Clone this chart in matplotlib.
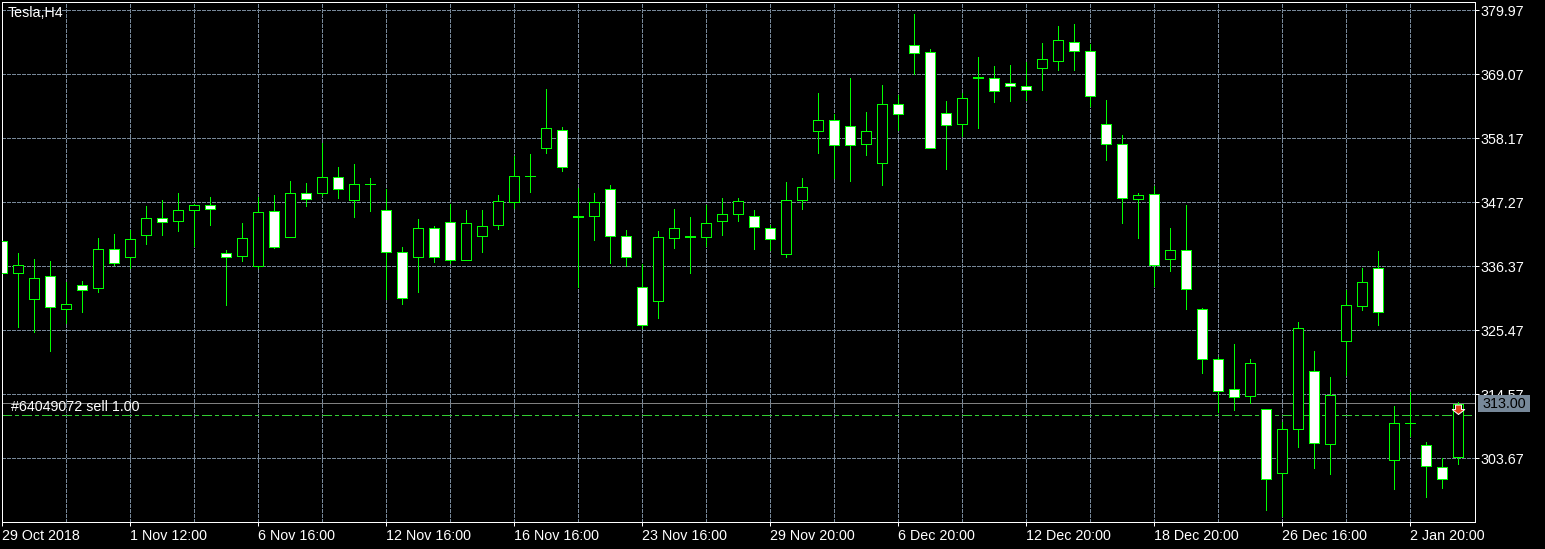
import numpy as np
import matplotlib
matplotlib.use('Agg')
import matplotlib.pyplot as plt
from matplotlib.patches import Rectangle

plt.rcParams['font.family'] = ['Liberation Sans', 'DejaVu Sans']

# candle values
opens = [340.63, 335.18, 330.75, 334.67, 329.05, 333.14, 332.63, 339.27, 337.91, 341.65,
         344.55, 344.04, 345.91, 346.76, 338.59, 338.08, 336.37, 345.74, 341.31, 348.81,
         348.81, 351.53, 347.61, 350.34, 345.91, 338.76, 337.91, 342.84, 343.87, 337.39,
         341.48, 343.36, 347.27, 351.70, 356.47, 359.53, 344.97, 344.89, 349.49, 341.48,
         332.80, 330.41, 341.14, 341.48, 341.31, 344.04, 345.23, 344.89, 342.84, 338.42,
         347.61, 359.36, 361.24, 360.22, 357.15, 353.91, 363.96, 374.01, 372.82, 362.43,
         360.56, 368.65, 368.39, 367.54, 367.03, 370.09, 371.29, 374.52, 372.99, 360.56,
         357.15, 347.78, 348.63, 337.56, 339.10, 329.05, 320.53, 315.42, 314.23, 312.02,
         301.12, 308.61, 318.49, 306.06, 323.60, 329.56, 336.03, 303.33, 309.63, 305.89,
         302.14, 303.84]
highs = [340.63, 338.59, 337.56, 337.22, 333.65, 333.82, 341.14, 341.82, 342.50, 346.59,
         347.61, 348.81, 346.93, 348.12, 339.10, 343.70, 348.12, 348.46, 350.85, 350.51,
         357.32, 353.23, 353.74, 351.36, 349.49, 339.61, 344.38, 343.18, 346.93, 345.91,
         345.91, 348.46, 355.11, 355.45, 366.60, 360.05, 349.66, 348.81, 350.17, 342.50,
         336.71, 342.33, 346.08, 344.72, 346.76, 347.95, 347.95, 345.91, 343.44, 350.68,
         351.36, 365.84, 362.26, 368.48, 362.60, 367.28, 365.50, 379.38, 373.33, 364.47,
         365.84, 371.97, 370.52, 370.60, 371.12, 374.44, 377.33, 377.67, 374.27, 364.73,
         358.77, 348.89, 350.08, 342.84, 346.85, 329.30, 320.96, 323.09, 320.53, 312.10,
         309.80, 326.84, 321.90, 317.47, 332.28, 336.03, 338.93, 312.53, 314.91, 306.40,
         303.67, 313.21]
lows = [335.18, 325.98, 325.13, 321.90, 326.66, 328.54, 331.94, 336.63, 336.03, 340.12,
        341.74, 342.33, 339.78, 343.36, 329.73, 337.31, 336.03, 339.52, 341.31, 346.59,
        348.55, 348.04, 344.72, 345.74, 330.75, 329.90, 331.94, 337.05, 336.88, 337.39,
        338.76, 342.67, 346.25, 348.98, 355.62, 352.55, 332.80, 340.80, 336.88, 336.37,
        325.81, 327.52, 339.44, 335.18, 339.78, 341.65, 344.04, 339.27, 339.10, 337.91,
        346.08, 355.62, 351.36, 350.85, 355.28, 350.17, 359.62, 369.07, 356.47, 352.89,
        358.51, 359.88, 364.30, 364.47, 364.64, 366.35, 369.84, 369.84, 363.62, 354.51,
        343.70, 341.23, 332.97, 335.49, 329.13, 318.15, 311.51, 311.93, 313.04, 294.82,
        293.79, 305.55, 301.97, 300.95, 317.81, 328.88, 326.32, 298.39, 307.51, 297.03,
        298.56, 302.65]
closes = [335.18, 336.54, 334.33, 329.39, 329.90, 332.28, 339.27, 336.88, 340.97, 344.55,
          343.87, 345.91, 346.76, 346.08, 337.91, 341.14, 345.57, 339.61, 348.81, 347.78,
          351.53, 349.49, 350.34, 350.34, 338.76, 330.92, 342.84, 337.91, 337.39, 343.70,
          343.18, 347.44, 351.70, 351.70, 359.88, 353.23, 344.80, 347.27, 341.48, 337.91,
          326.32, 341.31, 342.84, 341.40, 343.70, 345.23, 347.44, 343.01, 340.97, 347.61,
          349.83, 361.24, 356.98, 356.98, 359.36, 363.96, 362.26, 372.65, 356.47, 360.39,
          364.98, 368.50, 366.18, 367.03, 366.35, 371.63, 374.86, 372.99, 365.33, 357.15,
          347.95, 348.46, 336.54, 339.10, 332.46, 320.53, 315.08, 314.06, 319.85, 300.10,
          308.61, 325.81, 306.23, 314.40, 329.73, 333.65, 328.54, 309.63, 309.63, 302.31,
          300.10, 312.87]

price_ticks = [379.97, 369.07, 358.17, 347.27, 336.37, 325.47, 314.57, 303.67]
date_labels = ['29 Oct 2018', '1 Nov 12:00', '6 Nov 16:00', '12 Nov 16:00', '16 Nov 16:00',
               '23 Nov 16:00', '29 Nov 20:00', '6 Dec 20:00', '12 Dec 20:00', '18 Dec 20:00',
               '26 Dec 16:00', '2 Jan 20:00']
bid_price = 313.00
order_price = 310.99
order_label = '#64049072 sell 1.00'

px = 72 / 100  # one pixel in points
lime = '#00ff00'
slate = '#778899'
font_size = 10.25

fig = plt.figure(figsize=(15.45, 5.49), dpi=100, facecolor='black')
# 0.2 px off the half pixel so that snapping lands lines on the same pixels as the chart
ax = fig.add_axes([2.3 / 1545, 26.7 / 549, 1473 / 1545, 520 / 549], facecolor='black')
ax.set_axisbelow(True)

x = np.arange(len(opens))
o = np.array(opens)
c = np.array(closes)
down = c <= o
wicks = ax.vlines(x, lows, highs, color=lime, lw=px, zorder=3, antialiased=False)
wicks.set_snap(True)
bodies = ax.bar(x, c - o, bottom=o, width=0.625, color=np.where(down, 'white', 'black'),
                edgecolor=lime, linewidth=px, zorder=4, antialiased=False)

# price and order lines sit under the candles
ax.axhline(bid_price, color='#808080', lw=px, zorder=2, antialiased=False)
ax.axhline(order_price, color='#32cd32', lw=px, ls=(0, (10, 4, 3, 4)), zorder=2, antialiased=False)

# sell arrow on the last candle
arrow = [(0, 1), (6.3, 6), (3, 6), (3, 10.5), (-3, 10.5), (-3, 6), (-6.3, 6), (0, 1)]
ax.plot([x[-1]], [order_price], marker=arrow, ms=15, mfc='#e0401a', mec='white',
        mew=px, ls='none', zorder=6)

ax.set_xlim(0, 1473 / 16)
ax.set_ylim(292.75, 381.31)

ax.set_xticks(np.arange(0, 92, 4), minor=True)
ax.set_xticks(np.arange(0, 92, 8))
ax.set_xticklabels(date_labels, ha='left')
ax.set_yticks(price_ticks)
ax.set_yticklabels(['%.2f' % p for p in price_ticks])
ax.yaxis.tick_right()
ax.tick_params(axis='both', which='major', colors='white', length=4 * px, width=px,
               labelsize=font_size)
ax.tick_params(axis='x', which='minor', length=0)
ax.tick_params(axis='y', pad=1)
ax.tick_params(axis='x', pad=2)

ax.grid(True, axis='x', which='both', color=slate, lw=px, ls=(0, (3, 2)), antialiased=False)
ax.grid(True, axis='y', which='major', color=slate, lw=px, ls=(0, (3, 2)), antialiased=False)

for s in ax.spines.values():
    s.set_color('white')
    s.set_linewidth(px)

ax.annotate('Tesla,H4', xy=(0, 1), xycoords='axes fraction', xytext=(5 * px, -4 * px),
            textcoords='offset points', color='white', fontsize=font_size, va='top', zorder=7)
ax.annotate(order_label, xy=(0, order_price), xycoords=('axes fraction', 'data'),
            xytext=(9 * px, 1 * px), textcoords='offset points', color='white',
            fontsize=font_size, va='bottom', zorder=7)

# current price tag covers the 314.57 label underneath
ax.add_patch(Rectangle((1.0018, 311.59), 0.0353, 2.90, transform=ax.get_yaxis_transform(),
                       fc=slate, ec='none', clip_on=False, zorder=8))
ax.annotate('%.2f' % bid_price, xy=(1, bid_price), xycoords=('axes fraction', 'data'),
            xytext=(7 * px, -1 * px), textcoords='offset points', color='black',
            fontsize=font_size, va='center', zorder=9, annotation_clip=False)

fig.savefig('out.png', dpi=100, facecolor='black')
